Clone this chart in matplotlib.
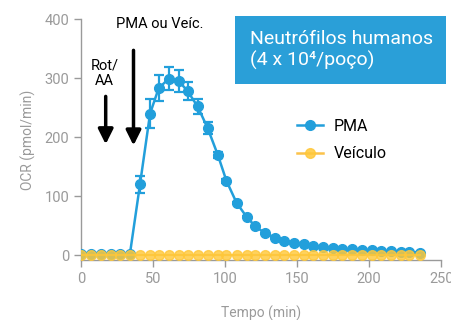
import matplotlib
matplotlib.use("Agg")
import matplotlib.pyplot as plt
from matplotlib.patches import Rectangle
from matplotlib.lines import Line2D

plt.rcParams['font.family'] = ['Roboto', 'DejaVu Sans']

time_min = [0, 7, 14, 21, 27, 34, 41, 48, 54, 61, 68, 74, 81, 88, 95, 101, 108, 115,
            121, 128, 135, 141, 148, 155, 161, 168, 175, 181, 188, 195, 202, 208, 215,
            222, 228, 235]
pma = [3, 3, 3, 2, 2, 2, 120, 240, 283, 299, 295, 278, 252, 215, 170, 126, 89, 65,
       49, 37, 30, 24, 21, 19, 16, 14, 12.5, 11, 10, 9.5, 8.5, 7.5, 7, 6, 5, 4.5]
pma_err = [1, 1, 1, 1, 1, 1, 14, 25, 22, 19, 19, 15, 12, 10, 5, 3, 2, 1, 1, 1, 1, 1,
           1, 1, 1, 1, 1, 1, 1, 1, 1, 1, 1, 1, 1, 1]
veiculo = [0] * 36

x_ticks = [0, 50, 100, 150, 200, 250]
y_ticks = [0, 100, 200, 300, 400]

BLUE = "#229FDB"
YELLOW = "#FFC83A"
YLINE = "#FBB82B"
GRAY = "#9A9A9A"

fig = plt.figure(figsize=(4.52, 3.2), dpi=100)
ax = fig.add_axes([0.179, 0.1875, 0.797, 0.753])

ax.errorbar(time_min, pma, yerr=pma_err, color=BLUE, lw=1.8, marker='o', ms=7,
            mec=BLUE, mfc=BLUE, capsize=3.5, elinewidth=1.6, capthick=1.6, zorder=3)
ax.plot(time_min, veiculo, color=YLINE, lw=1.5, marker='o', ms=7,
        mfc=YELLOW, mec=YELLOW, alpha=0.82, zorder=4)

ax.set_xlim(0, 250)
ax.set_ylim(-8, 400)
ax.set_xticks(x_ticks)
ax.set_yticks(y_ticks)
for s in ['top', 'right']:
    ax.spines[s].set_visible(False)
for s in ['left', 'bottom']:
    ax.spines[s].set_color(GRAY)
    ax.spines[s].set_linewidth(1.0)
ax.tick_params(colors=GRAY, labelcolor=GRAY, labelsize=10.5, length=5, width=1.0)
ax.set_xlabel('Tempo (min)', color=GRAY, fontsize=10, labelpad=14)
ax.set_ylabel('OCR (pmol/min)', color=GRAY, fontsize=10, labelpad=6)

handles = [Line2D([], [], color=BLUE, lw=1.8, marker='o', ms=7, mfc=BLUE, mec=BLUE),
           Line2D([], [], color=YLINE, lw=1.8, marker='o', ms=7, mfc=YELLOW, mec=YELLOW, alpha=0.85)]
ax.legend(handles, ['PMA', 'Veículo'], loc='upper left', bbox_to_anchor=(0.56, 0.645),
          frameon=False, fontsize=11.5, handlelength=1.6, handletextpad=0.7,
          labelspacing=0.78)

# annotations
ax.text(55, 392, 'PMA ou Veíc.', ha='center', va='center', fontsize=10.5, color='black')
ax.text(16.5, 308, 'Rot/\nAA', ha='center', va='center', fontsize=10.5, color='black',
        linespacing=1.15)
arrows = [(17.2, 269, 188), (36.5, 347, 186)]
for xa, y0, y1 in arrows:
    ax.annotate('', xy=(xa, y1), xytext=(xa, y0),
                arrowprops=dict(arrowstyle='-|>,head_length=0.9,head_width=0.45',
                                color='black', lw=2.5, shrinkA=0, shrinkB=0))

# title box
fig.patches.append(Rectangle((235 / 452, 1 - 84 / 320), (446 - 235) / 452, (84 - 16) / 320,
                             transform=fig.transFigure, facecolor="#2A9FD8",
                             edgecolor='none', zorder=0))
fig.text(250 / 452, 1 - 50 / 320, 'Neutrófilos humanos\n(4 x 10⁴/poço)', color='white',
         fontsize=14, ha='left', va='center', linespacing=1.25,
         family=['Roboto', 'DejaVu Sans'])

fig.savefig('out.png', dpi=100)
